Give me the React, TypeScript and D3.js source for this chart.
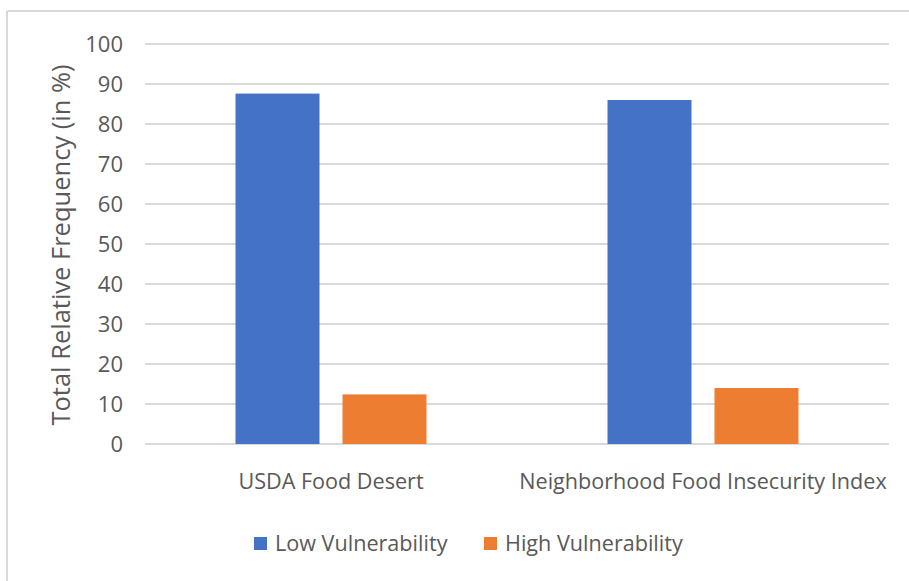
import React from "react";
import * as d3 from "d3";

const categories = ["USDA Food Desert", "Neighborhood Food Insecurity Index"];
const seriesNames = ["Low Vulnerability", "High Vulnerability"];
const lowVulnerability = [87.6, 86];
const highVulnerability = [12.4, 14];
const yTicks = [0, 10, 20, 30, 40, 50, 60, 70, 80, 90, 100];
const colors = ["#4472C4", "#ED7D31"];

const W = 909;
const H = 581;
const FONT = "'Open Sans', sans-serif";

export default function App() {
  const x0 = d3.scaleBand<string>().domain(categories).range([145, 889]).paddingInner(0).paddingOuter(0);
  const x1 = d3
    .scaleBand<string>()
    .domain(seriesNames)
    .range([0, x0.bandwidth()])
    .paddingInner(0.215)
    .paddingOuter(0.846);
  const y = d3.scaleLinear().domain([0, 100]).range([444, 44]);
  const series = [lowVulnerability, highVulnerability];

  return (
    <svg width={W} height={H} style={{ position: "absolute", left: 0, top: 0, background: "#fff" }}>
      <rect x={0} y={0} width={W} height={H} fill="#fff" />
      <line x1={7} y1={11} x2={W} y2={11} stroke="#d9d9d9" strokeWidth={2} />
      <line x1={7} y1={11} x2={7} y2={H} stroke="#d9d9d9" strokeWidth={2} />
      {yTicks.map((t) => (
        <g key={t}>
          <line x1={145} x2={889} y1={y(t)} y2={y(t)} stroke="#d9d9d9" strokeWidth={2} />
          <text
            x={123}
            y={y(t)}
            dy="0.35em"
            textAnchor="end"
            fontFamily={FONT}
            fontSize={22}
            fill="#595959"
          >
            {t}
          </text>
        </g>
      ))}
      {categories.map((c, ci) => (
        <g key={c} transform={`translate(${x0(c)},0)`}>
          {seriesNames.map((s, si) => (
            <rect
              key={s}
              x={x1(s)}
              width={x1.bandwidth()}
              y={y(series[si][ci])}
              height={y(0) - y(series[si][ci])}
              fill={colors[si]}
            />
          ))}
          <text
            x={x0.bandwidth() / 2}
            y={481}
            dy="0.35em"
            textAnchor="middle"
            fontFamily={FONT}
            fontSize={21.6}
            fill="#595959"
          >
            {c}
          </text>
        </g>
      ))}
      <text
        transform={`translate(61,245) rotate(-90)`}
        textAnchor="middle"
        dy="0.35em"
        fontFamily={FONT}
        fontSize={25.5}
        fill="#595959"
      >
        Total Relative Frequency (in %)
      </text>
      {seriesNames.map((s, i) => {
        const lx = [254, 484][i];
        return (
          <g key={s}>
            <rect x={lx} y={537} width={13} height={13} fill={colors[i]} />
            <text x={lx + 21} y={543} dy="0.35em" fontFamily={FONT} fontSize={21.6} fill="#595959">
              {s}
            </text>
          </g>
        );
      })}
    </svg>
  );
}
